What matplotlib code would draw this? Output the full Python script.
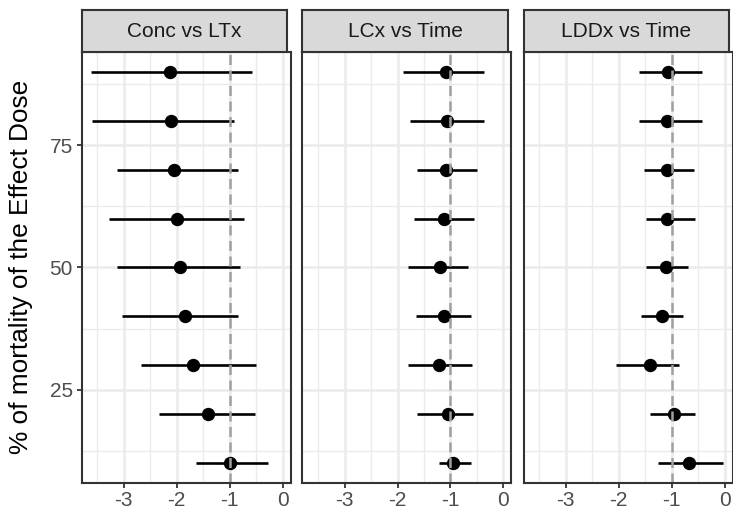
import matplotlib
matplotlib.use("Agg")
import matplotlib.pyplot as plt
from matplotlib.patches import Rectangle

plt.rcParams['font.family'] = ['Liberation Sans', 'DejaVu Sans']
plt.rcParams['axes.unicode_minus'] = False

# ---- data ----
panels = ["Conc vs LTx", "LCx vs Time", "LDDx vs Time"]
mortality = [10, 20, 30, 40, 50, 60, 70, 80, 90]

conc_est = [-0.99, -1.41, -1.69, -1.85, -1.94, -2.00, -2.05, -2.10, -2.13]
conc_lo = [-1.64, -2.34, -2.68, -3.04, -3.12, -3.28, -3.12, -3.60, -3.62]
conc_hi = [-0.28, -0.53, -0.50, -0.84, -0.80, -0.72, -0.84, -0.91, -0.57]

lcx_est = [-0.96, -1.04, -1.21, -1.13, -1.19, -1.13, -1.09, -1.06, -1.08]
lcx_lo = [-1.22, -1.63, -1.80, -1.65, -1.80, -1.68, -1.63, -1.77, -1.90]
lcx_hi = [-0.62, -0.58, -0.60, -0.61, -0.67, -0.55, -0.50, -0.36, -0.36]

lddx_est = [-0.67, -0.95, -1.40, -1.18, -1.11, -1.09, -1.08, -1.08, -1.06]
lddx_lo = [-1.25, -1.41, -2.05, -1.58, -1.49, -1.49, -1.52, -1.61, -1.62]
lddx_hi = [-0.03, -0.56, -0.86, -0.78, -0.69, -0.56, -0.58, -0.42, -0.42]

x_ticks = [-3, -2, -1, 0]
x_minor = [-3.5, -2.5, -1.5, -0.5]
y_ticks = [25, 50, 75]
y_minor = [12.5, 37.5, 62.5, 87.5]
ref_line = -1

series = [(conc_est, conc_lo, conc_hi), (lcx_est, lcx_lo, lcx_hi),
          (lddx_est, lddx_lo, lddx_hi)]

# shared scales with 5% expansion
all_lo = min(min(s[1]) for s in series)
all_hi = max(max(s[2]) for s in series)
xr = all_hi - all_lo
xlim = (all_lo - 0.05 * xr, all_hi + 0.05 * xr)
yr = max(mortality) - min(mortality)
ylim = (min(mortality) - 0.05 * yr, max(mortality) + 0.05 * yr)

W, H = 733, 515
fig = plt.figure(figsize=(W / 100, H / 100), dpi=100)

panel_left = [81.5, 302.3, 523.5]
panel_w = 209.0
strip_w = 205.5
panel_top, panel_bot = 52.3, 482.7
strip_top = 10.0

for i, (name, (est, lo, hi)) in enumerate(zip(panels, series)):
    l = panel_left[i]
    ax = fig.add_axes([l / W, 1 - panel_bot / H, panel_w / W, (panel_bot - panel_top) / H])
    ax.set_xlim(*xlim)
    ax.set_ylim(*ylim)
    ax.set_facecolor('white')
    # grid
    for xm in x_minor:
        ax.axvline(xm, color='#EBEBEB', lw=0.95, zorder=0)
    for ym in y_minor:
        ax.axhline(ym, color='#EBEBEB', lw=0.95, zorder=0)
    for xm in x_ticks:
        ax.axvline(xm, color='#EBEBEB', lw=1.8, zorder=0.5)
    for ym in y_ticks:
        ax.axhline(ym, color='#EBEBEB', lw=1.8, zorder=0.5)
    # error bars + points
    ax.hlines(mortality, lo, hi, color='black', lw=1.9, zorder=2)
    ax.plot(est, mortality, 'o', color='black', ms=8.6, zorder=3)
    ax.axvline(ref_line, color='#A0A0A0', lw=1.8, ls=(0, (4, 2.2)), zorder=4)

    ax.set_xticks(x_ticks)
    ax.set_xticklabels([str(t) for t in x_ticks])
    ax.set_yticks(y_ticks)
    if i == 0:
        ax.set_yticklabels([str(t) for t in y_ticks])
        ax.tick_params(axis='y', length=3.6, width=1.3, color='#333333',
                       labelsize=15, labelcolor='#4D4D4D', pad=2.5)
    else:
        ax.tick_params(axis='y', length=0, labelleft=False)
    ax.tick_params(axis='x', length=3.6, width=1.3, color='#333333',
                   labelsize=15, labelcolor='#4D4D4D', pad=2.5)
    for sp in ax.spines.values():
        sp.set_color('#333333')
        sp.set_linewidth(1.5)
        sp.set_zorder(5)

    # strip
    sax = fig.add_axes([l / W, 1 - panel_top / H, strip_w / W, (panel_top - strip_top) / H])
    sax.set_xticks([])
    sax.set_yticks([])
    sax.set_facecolor('#D9D9D9')
    for sp in sax.spines.values():
        sp.set_color('#333333')
        sp.set_linewidth(1.5)
    sax.text(0.5, 0.5, name, ha='center', va='center', fontsize=15,
             color='#1A1A1A', transform=sax.transAxes)

fig.text(21 / W, 1 - 267 / H, "% of mortality of the Effect Dose", rotation=90,
         ha='center', va='center', fontsize=18.9, color='black')

fig.savefig("out.png", dpi=100)
